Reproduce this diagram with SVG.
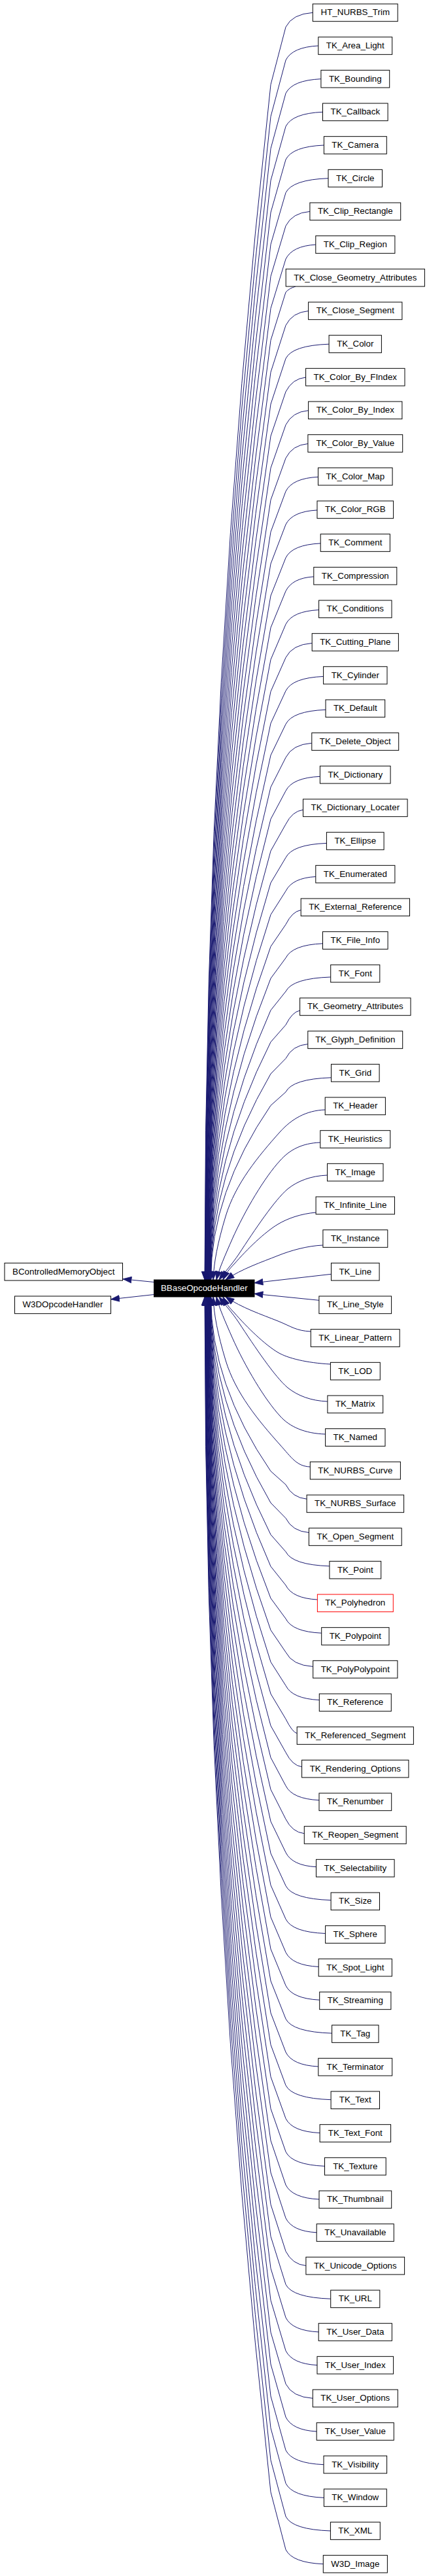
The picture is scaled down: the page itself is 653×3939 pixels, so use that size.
<svg xmlns="http://www.w3.org/2000/svg" width="653" height="3939" viewBox="0 0 653 3939">
<style>
.n rect{fill:#fff;stroke:#000;stroke-width:1}
.n text{font-family:"Liberation Sans",Arial,Helvetica,sans-serif;font-size:13.33px;text-anchor:middle;fill:#000}
.r text{}
#edges path{fill:none;stroke:#191970;stroke-width:1;marker-end:url(#ah)}
</style>
<defs>
<marker id="ah" markerUnits="userSpaceOnUse" markerWidth="14" markerHeight="11" viewBox="0 0 14 11" refX="13.5" refY="5.5" orient="auto"><path d="M0.5,0.7 L13.5,5.5 L0.5,10.3 z" fill="#191970" stroke="#191970" stroke-width="0.8"/></marker>
</defs>
<rect width="653" height="3939" fill="#fff"/>
<g id="edges">
<path d="M478.3,19.3 Q447,21.3 437,41.3 L414,129.4 Q313,1043.2 313,1957"/>
<path d="M486.8,70 Q447,72 437,92 L414,178.3 Q313.3,1067.7 313.3,1957"/>
<path d="M490.9,120.7 Q447,122.7 437,142.7 L414,227.3 Q313.6,1092.2 313.6,1957"/>
<path d="M493.5,171.3 Q447,173.3 437,193.3 L414,276.1 Q313.9,1116.6 313.9,1957"/>
<path d="M495.4,222 Q447,224 437,244 L414,325 Q314.2,1141 314.2,1957"/>
<path d="M502,272.7 Q447,274.7 437,294.7 L414,373.8 Q314.5,1165.4 314.5,1957"/>
<path d="M473.9,323.4 Q447,325.4 437,345.4 L414,422.7 Q314.8,1189.9 314.8,1957"/>
<path d="M482.8,374.1 Q447,376.1 437,396.1 L414,471.6 Q315.1,1214.3 315.1,1957"/>
<path d="M452,438 Q442,441 437,446.8 L414,520.4 Q315.4,1238.7 315.4,1957"/>
<path d="M471.6,475.5 Q447,477.5 437,497.5 L414,569.2 Q315.7,1263.1 315.7,1957"/>
<path d="M503.1,526.2 Q447,528.2 437,548.2 L414,618 Q316,1287.5 316,1957"/>
<path d="M467.6,577 Q447,579 437,599 L414,666.9 Q316.3,1312 316.3,1957"/>
<path d="M471.6,627.7 Q447,629.7 437,649.7 L414,715.7 Q316.6,1336.4 316.6,1957"/>
<path d="M470.9,678.5 Q447,680.5 437,700.5 L414,764.5 Q316.9,1360.8 316.9,1957"/>
<path d="M486.5,729.3 Q447,731.3 437,751.3 L414,813.4 Q317.2,1385.2 317.2,1957"/>
<path d="M485,780 Q447,782 437,802 L414,862.1 Q317.5,1409.6 317.5,1957"/>
<path d="M490.2,830.9 Q447,832.9 437,852.9 L414,911 Q317.8,1434 317.8,1957"/>
<path d="M479.8,881.8 Q447,883.8 437,903.8 L414,959.8 Q318,1458.4 318,1957"/>
<path d="M487.6,932.6 Q447,934.6 437,954.6 L414,1008.6 Q318.3,1482.8 318.3,1957"/>
<path d="M477.2,983.5 Q447,985.5 437,1005.5 L414,1057.4 Q318.6,1507.2 318.6,1957"/>
<path d="M494.6,1034.4 Q447,1036.4 437,1056.4 L414,1106.1 Q318.9,1531.6 318.9,1957"/>
<path d="M498,1085.3 Q447,1087.3 437,1107.3 L414,1154.9 Q319.2,1556 319.2,1957"/>
<path d="M476.8,1136.3 Q447,1138.3 437,1158.3 L414,1203.7 Q319.5,1580.4 319.5,1957"/>
<path d="M489.4,1187.3 Q447,1189.3 437,1209.3 L414,1252.5 Q319.8,1604.8 319.8,1957"/>
<path d="M463.5,1238.3 Q447,1240.3 437,1260.3 L414,1301.2 Q320.1,1629.1 320.1,1957"/>
<path d="M499.4,1289.4 Q447,1291.4 437,1311.4 L414,1350 Q320.4,1653.5 320.4,1957"/>
<path d="M482.8,1340.5 Q447,1342.5 437,1362.5 L414,1398.7 Q320.7,1677.9 320.7,1957"/>
<path d="M460.2,1391.6 Q447,1393.6 437,1413.6 L414,1447.4 Q321,1702.2 321,1957"/>
<path d="M493.5,1442.8 Q447,1444.8 437,1464.8 L414,1496.1 Q321.3,1726.6 321.3,1957"/>
<path d="M505.7,1494 Q447,1496 437,1516 L414,1544.8 Q321.6,1750.9 321.6,1957"/>
<path d="M458.6,1545.2 Q447,1547.2 437,1567.2 L414,1593.4 Q321.9,1775.2 321.9,1957"/>
<path d="M470.8,1596.5 Q447,1598.5 437,1618.5 L414,1642 Q322.2,1799.5 322.2,1957"/>
<path d="M506.5,1647.8 Q447,1649.8 437,1669.8 L414,1690.4 Q322.5,1823.7 322.5,1957"/>
<path d="M497.2,1697 C468,1698 446,1711 428,1731 C395,1768 360,1810 345,1860 C333,1900 327,1930 326,1957"/>
<path d="M489.8,1747 C462,1748 443,1758 428,1775 C405,1800 375,1850 355,1895 C345,1918 335,1940 331,1957"/>
<path d="M500.5,1797 C475,1798 455,1806 440,1818 C420,1835 390,1880 365,1918 C355,1933 343,1946 335,1957"/>
<path d="M483.1,1854 C460,1856 440,1863 425,1872 C405,1884 378,1910 358,1933 C350,1941 345,1948 341,1957"/>
<path d="M493.9,1904 C470,1905 445,1912 425,1920 C400,1930 370,1940 345,1957"/>
<path d="M506.5,1948.3 L389,1961.7"/>
<path d="M487.9,1988.3 L389,1978.3"/>
<path d="M475.3,2036 C452.7,2035 445,2028 425,2020 C400,2010 370,2000 345,1983"/>
<path d="M505.4,2086 C469.2,2084 440,2077 425,2068 C405,2056 378,2030 358,2007 C350,1999 345,1992 341,1983"/>
<path d="M500.9,2143 C475,2142 455,2134 440,2122 C420,2105 390,2060 365,2022 C355,2007 343,1994 335,1983"/>
<path d="M497.6,2193 C466.3,2192 443,2182 428,2165 C405,2140 375,2090 355,2045 C345,2022 335,2000 331,1983"/>
<path d="M474.3,2243 C453.5,2242 446,2229 428,2209 C395,2172 360,2130 345,2080 C333,2040 327,2010 326,1983"/>
<path d="M469.1,2292.2 Q447,2290.2 437,2270.2 L414,2249.6 Q322.5,2116.3 322.5,1983"/>
<path d="M472.4,2343.5 Q447,2341.5 437,2321.5 L414,2298 Q322.2,2140.5 322.2,1983"/>
<path d="M503.9,2394.8 Q447,2392.8 437,2372.8 L414,2346.6 Q321.9,2164.8 321.9,1983"/>
<path d="M485.4,2446 Q447,2444 437,2424 L414,2395.2 Q321.6,2189.1 321.6,1983"/>
<path d="M491.7,2497.2 Q447,2495.2 437,2475.2 L414,2443.9 Q321.3,2213.4 321.3,1983"/>
<path d="M478.7,2548.4 Q447,2546.4 437,2526.4 L414,2492.6 Q321,2237.8 321,1983"/>
<path d="M488.3,2599.5 Q447,2597.5 437,2577.5 L414,2541.3 Q320.7,2262.1 320.7,1983"/>
<path d="M454.2,2650.6 Q447,2648.6 437,2628.6 L414,2590 Q320.4,2286.5 320.4,1983"/>
<path d="M461.6,2701.7 Q447,2699.7 437,2679.7 L414,2638.8 Q320.1,2310.9 320.1,1983"/>
<path d="M488,2752.7 Q447,2750.7 437,2730.7 L414,2687.5 Q319.8,2335.2 319.8,1983"/>
<path d="M465.3,2803.7 Q447,2801.7 437,2781.7 L414,2736.3 Q319.5,2359.6 319.5,1983"/>
<path d="M483.5,2854.7 Q447,2852.7 437,2832.7 L414,2785.1 Q319.2,2384 319.2,1983"/>
<path d="M506.1,2905.6 Q447,2903.6 437,2883.6 L414,2833.9 Q318.9,2408.4 318.9,1983"/>
<path d="M497.6,2956.5 Q447,2954.5 437,2934.5 L414,2882.6 Q318.6,2432.8 318.6,1983"/>
<path d="M487.2,3007.4 Q447,3005.4 437,2985.4 L414,2931.4 Q318.3,2457.2 318.3,1983"/>
<path d="M488.7,3058.2 Q447,3056.2 437,3036.2 L414,2980.2 Q318,2481.6 318,1983"/>
<path d="M507.6,3109.1 Q447,3107.1 437,3087.1 L414,3029 Q317.8,2506 317.8,1983"/>
<path d="M486.8,3160 Q447,3158 437,3138 L414,3077.9 Q317.5,2530.4 317.5,1983"/>
<path d="M506.1,3210.7 Q447,3208.7 437,3188.7 L414,3126.6 Q317.2,2554.8 317.2,1983"/>
<path d="M489.1,3261.5 Q447,3259.5 437,3239.5 L414,3175.5 Q316.9,2579.2 316.9,1983"/>
<path d="M496.5,3312.3 Q447,3310.3 437,3290.3 L414,3224.3 Q316.6,2603.6 316.6,1983"/>
<path d="M488,3363 Q447,3361 437,3341 L414,3273.1 Q316.3,2628 316.3,1983"/>
<path d="M484.2,3413.8 Q447,3411.8 437,3391.8 L414,3322 Q316,2652.5 316,1983"/>
<path d="M467.9,3464.5 Q447,3462.5 437,3442.5 L414,3370.8 Q315.7,2676.9 315.7,1983"/>
<path d="M505.7,3515.2 Q447,3513.2 437,3493.2 L414,3419.6 Q315.4,2701.3 315.4,1983"/>
<path d="M487.2,3565.9 Q447,3563.9 437,3543.9 L414,3468.4 Q315.1,2725.7 315.1,1983"/>
<path d="M485,3616.6 Q447,3614.6 437,3594.6 L414,3517.3 Q314.8,2750.1 314.8,1983"/>
<path d="M478.3,3667.3 Q447,3665.3 437,3645.3 L414,3566.2 Q314.5,2774.6 314.5,1983"/>
<path d="M484.2,3718 Q447,3716 437,3696 L414,3615 Q314.2,2799 314.2,1983"/>
<path d="M495,3768.7 Q447,3766.7 437,3746.7 L414,3663.9 Q313.9,2823.4 313.9,1983"/>
<path d="M495.4,3819.3 Q447,3817.3 437,3797.3 L414,3712.7 Q313.6,2847.8 313.6,1983"/>
<path d="M505.4,3870 Q447,3868 437,3848 L414,3761.7 Q313.3,2872.3 313.3,1983"/>
<path d="M494.3,3920.7 Q447,3918.7 437,3898.7 L414,3810.6 Q313,2896.8 313,1983"/>
<path d="M235.5,1960.5 L188,1955.8"/>
<path d="M235.5,1979.5 L169.5,1986.8"/>
</g>
<g id="BBaseOpcodeHandler"><rect x="235.5" y="1957" width="153.5" height="26" fill="#000" stroke="#000"/><text x="312.3" y="1974.3" font-family="Liberation Sans,Arial,sans-serif" font-size="13.33px" text-anchor="middle" fill="#fff">BBaseOpcodeHandler</text></g>
<g id="BControlledMemoryObject" class="n"><rect x="7" y="1931.33" width="180.5" height="26.67"/><text x="97.2" y="1948.67">BControlledMemoryObject</text></g>
<g id="W3DOpcodeHandler" class="n"><rect x="22.5" y="1982" width="147" height="26.67"/><text x="96" y="1999.33">W3DOpcodeHandler</text></g>
<g id="HT_NURBS_Trim" class="n"><rect x="478.3" y="6" width="129.9" height="26.67"/><text x="543.3" y="23.33">HT_NURBS_Trim</text></g>
<g id="TK_Area_Light" class="n"><rect x="486.8" y="56.67" width="112.9" height="26.67"/><text x="543.3" y="74">TK_Area_Light</text></g>
<g id="TK_Bounding" class="n"><rect x="490.9" y="107.33" width="104.8" height="26.67"/><text x="543.3" y="124.67">TK_Bounding</text></g>
<g id="TK_Callback" class="n"><rect x="493.5" y="158" width="99.6" height="26.67"/><text x="543.3" y="175.33">TK_Callback</text></g>
<g id="TK_Camera" class="n"><rect x="495.4" y="208.67" width="95.9" height="26.67"/><text x="543.3" y="226">TK_Camera</text></g>
<g id="TK_Circle" class="n"><rect x="502" y="259.33" width="82.5" height="26.67"/><text x="543.3" y="276.67">TK_Circle</text></g>
<g id="TK_Clip_Rectangle" class="n"><rect x="473.9" y="310" width="138.8" height="26.67"/><text x="543.3" y="327.33">TK_Clip_Rectangle</text></g>
<g id="TK_Clip_Region" class="n"><rect x="482.8" y="360.67" width="121.1" height="26.67"/><text x="543.3" y="378">TK_Clip_Region</text></g>
<g id="TK_Close_Geometry_Attributes" class="n"><rect x="437.2" y="411.33" width="212.2" height="26.67"/><text x="543.3" y="428.67">TK_Close_Geometry_Attributes</text></g>
<g id="TK_Close_Segment" class="n"><rect x="471.6" y="462" width="143.3" height="26.67"/><text x="543.3" y="479.33">TK_Close_Segment</text></g>
<g id="TK_Color" class="n"><rect x="503.1" y="512.67" width="80.3" height="26.67"/><text x="543.3" y="530">TK_Color</text></g>
<g id="TK_Color_By_FIndex" class="n"><rect x="467.6" y="563.33" width="151.4" height="26.67"/><text x="543.3" y="580.67">TK_Color_By_FIndex</text></g>
<g id="TK_Color_By_Index" class="n"><rect x="471.6" y="614" width="143.3" height="26.67"/><text x="543.3" y="631.33">TK_Color_By_Index</text></g>
<g id="TK_Color_By_Value" class="n"><rect x="470.9" y="664.67" width="144.8" height="26.67"/><text x="543.3" y="682">TK_Color_By_Value</text></g>
<g id="TK_Color_Map" class="n"><rect x="486.5" y="715.33" width="113.6" height="26.67"/><text x="543.3" y="732.67">TK_Color_Map</text></g>
<g id="TK_Color_RGB" class="n"><rect x="485" y="766" width="116.6" height="26.67"/><text x="543.3" y="783.33">TK_Color_RGB</text></g>
<g id="TK_Comment" class="n"><rect x="490.2" y="816.67" width="106.2" height="26.67"/><text x="543.3" y="834">TK_Comment</text></g>
<g id="TK_Compression" class="n"><rect x="479.8" y="867.33" width="127" height="26.67"/><text x="543.3" y="884.67">TK_Compression</text></g>
<g id="TK_Conditions" class="n"><rect x="487.6" y="918" width="111.4" height="26.67"/><text x="543.3" y="935.33">TK_Conditions</text></g>
<g id="TK_Cutting_Plane" class="n"><rect x="477.2" y="968.67" width="132.2" height="26.67"/><text x="543.3" y="986">TK_Cutting_Plane</text></g>
<g id="TK_Cylinder" class="n"><rect x="494.6" y="1019.33" width="97.4" height="26.67"/><text x="543.3" y="1036.67">TK_Cylinder</text></g>
<g id="TK_Default" class="n"><rect x="498" y="1070" width="90.7" height="26.67"/><text x="543.3" y="1087.33">TK_Default</text></g>
<g id="TK_Delete_Object" class="n"><rect x="476.8" y="1120.67" width="132.9" height="26.67"/><text x="543.3" y="1138">TK_Delete_Object</text></g>
<g id="TK_Dictionary" class="n"><rect x="489.4" y="1171.33" width="107.7" height="26.67"/><text x="543.3" y="1188.67">TK_Dictionary</text></g>
<g id="TK_Dictionary_Locater" class="n"><rect x="463.5" y="1222" width="159.6" height="26.67"/><text x="543.3" y="1239.33">TK_Dictionary_Locater</text></g>
<g id="TK_Ellipse" class="n"><rect x="499.4" y="1272.67" width="87.7" height="26.67"/><text x="543.3" y="1290">TK_Ellipse</text></g>
<g id="TK_Enumerated" class="n"><rect x="482.8" y="1323.33" width="121.1" height="26.67"/><text x="543.3" y="1340.67">TK_Enumerated</text></g>
<g id="TK_External_Reference" class="n"><rect x="460.2" y="1374" width="166.3" height="26.67"/><text x="543.3" y="1391.33">TK_External_Reference</text></g>
<g id="TK_File_Info" class="n"><rect x="493.5" y="1424.67" width="99.6" height="26.67"/><text x="543.3" y="1442">TK_File_Info</text></g>
<g id="TK_Font" class="n"><rect x="505.7" y="1475.33" width="75.1" height="26.67"/><text x="543.3" y="1492.67">TK_Font</text></g>
<g id="TK_Geometry_Attributes" class="n"><rect x="458.6" y="1526" width="169.4" height="26.67"/><text x="543.3" y="1543.33">TK_Geometry_Attributes</text></g>
<g id="TK_Glyph_Definition" class="n"><rect x="470.8" y="1576.67" width="144.9" height="26.67"/><text x="543.3" y="1594">TK_Glyph_Definition</text></g>
<g id="TK_Grid" class="n"><rect x="506.5" y="1627.33" width="73.6" height="26.67"/><text x="543.3" y="1644.67">TK_Grid</text></g>
<g id="TK_Header" class="n"><rect x="497.2" y="1678" width="92.2" height="26.67"/><text x="543.3" y="1695.33">TK_Header</text></g>
<g id="TK_Heuristics" class="n"><rect x="489.8" y="1728.67" width="107" height="26.67"/><text x="543.3" y="1746">TK_Heuristics</text></g>
<g id="TK_Image" class="n"><rect x="500.5" y="1779.33" width="85.5" height="26.67"/><text x="543.3" y="1796.67">TK_Image</text></g>
<g id="TK_Infinite_Line" class="n"><rect x="483.1" y="1830" width="120.4" height="26.67"/><text x="543.3" y="1847.33">TK_Infinite_Line</text></g>
<g id="TK_Instance" class="n"><rect x="493.9" y="1880.67" width="98.9" height="26.67"/><text x="543.3" y="1898">TK_Instance</text></g>
<g id="TK_Line" class="n"><rect x="506.5" y="1931.33" width="73.6" height="26.67"/><text x="543.3" y="1948.67">TK_Line</text></g>
<g id="TK_Line_Style" class="n"><rect x="487.9" y="1982" width="110.7" height="26.67"/><text x="543.3" y="1999.33">TK_Line_Style</text></g>
<g id="TK_Linear_Pattern" class="n"><rect x="475.3" y="2032.67" width="135.9" height="26.67"/><text x="543.3" y="2050">TK_Linear_Pattern</text></g>
<g id="TK_LOD" class="n"><rect x="505.4" y="2083.33" width="75.9" height="26.67"/><text x="543.3" y="2100.67">TK_LOD</text></g>
<g id="TK_Matrix" class="n"><rect x="500.9" y="2134" width="84.8" height="26.67"/><text x="543.3" y="2151.33">TK_Matrix</text></g>
<g id="TK_Named" class="n"><rect x="497.6" y="2184.67" width="91.4" height="26.67"/><text x="543.3" y="2202">TK_Named</text></g>
<g id="TK_NURBS_Curve" class="n"><rect x="474.3" y="2235.33" width="138.1" height="26.67"/><text x="543.3" y="2252.67">TK_NURBS_Curve</text></g>
<g id="TK_NURBS_Surface" class="n"><rect x="469.1" y="2286" width="148.5" height="26.67"/><text x="543.3" y="2303.33">TK_NURBS_Surface</text></g>
<g id="TK_Open_Segment" class="n"><rect x="472.4" y="2336.67" width="141.8" height="26.67"/><text x="543.3" y="2354">TK_Open_Segment</text></g>
<g id="TK_Point" class="n"><rect x="503.9" y="2387.33" width="78.8" height="26.67"/><text x="543.3" y="2404.67">TK_Point</text></g>
<g id="TK_Polyhedron" class="n"><rect x="485.4" y="2438" width="115.9" height="26.67" style="stroke:#ff0000"/><text x="543.3" y="2455.33">TK_Polyhedron</text></g>
<g id="TK_Polypoint" class="n"><rect x="491.7" y="2488.67" width="103.3" height="26.67"/><text x="543.3" y="2506">TK_Polypoint</text></g>
<g id="TK_PolyPolypoint" class="n"><rect x="478.7" y="2539.33" width="129.2" height="26.67"/><text x="543.3" y="2556.67">TK_PolyPolypoint</text></g>
<g id="TK_Reference" class="n"><rect x="488.3" y="2590" width="110" height="26.67"/><text x="543.3" y="2607.33">TK_Reference</text></g>
<g id="TK_Referenced_Segment" class="n"><rect x="454.2" y="2640.67" width="178.2" height="26.67"/><text x="543.3" y="2658">TK_Referenced_Segment</text></g>
<g id="TK_Rendering_Options" class="n"><rect x="461.6" y="2691.33" width="163.3" height="26.67"/><text x="543.3" y="2708.67">TK_Rendering_Options</text></g>
<g id="TK_Renumber" class="n"><rect x="488" y="2742" width="110.7" height="26.67"/><text x="543.3" y="2759.33">TK_Renumber</text></g>
<g id="TK_Reopen_Segment" class="n"><rect x="465.3" y="2792.67" width="155.9" height="26.67"/><text x="543.3" y="2810">TK_Reopen_Segment</text></g>
<g id="TK_Selectability" class="n"><rect x="483.5" y="2843.33" width="119.6" height="26.67"/><text x="543.3" y="2860.67">TK_Selectability</text></g>
<g id="TK_Size" class="n"><rect x="506.1" y="2894" width="74.4" height="26.67"/><text x="543.3" y="2911.33">TK_Size</text></g>
<g id="TK_Sphere" class="n"><rect x="497.6" y="2944.67" width="91.4" height="26.67"/><text x="543.3" y="2962">TK_Sphere</text></g>
<g id="TK_Spot_Light" class="n"><rect x="487.2" y="2995.33" width="112.2" height="26.67"/><text x="543.3" y="3012.67">TK_Spot_Light</text></g>
<g id="TK_Streaming" class="n"><rect x="488.7" y="3046" width="109.2" height="26.67"/><text x="543.3" y="3063.33">TK_Streaming</text></g>
<g id="TK_Tag" class="n"><rect x="507.6" y="3096.67" width="71.4" height="26.67"/><text x="543.3" y="3114">TK_Tag</text></g>
<g id="TK_Terminator" class="n"><rect x="486.8" y="3147.33" width="112.9" height="26.67"/><text x="543.3" y="3164.67">TK_Terminator</text></g>
<g id="TK_Text" class="n"><rect x="506.1" y="3198" width="74.4" height="26.67"/><text x="543.3" y="3215.33">TK_Text</text></g>
<g id="TK_Text_Font" class="n"><rect x="489.1" y="3248.67" width="108.5" height="26.67"/><text x="543.3" y="3266">TK_Text_Font</text></g>
<g id="TK_Texture" class="n"><rect x="496.5" y="3299.33" width="93.7" height="26.67"/><text x="543.3" y="3316.67">TK_Texture</text></g>
<g id="TK_Thumbnail" class="n"><rect x="488" y="3350" width="110.7" height="26.67"/><text x="543.3" y="3367.33">TK_Thumbnail</text></g>
<g id="TK_Unavailable" class="n"><rect x="484.2" y="3400.67" width="118.1" height="26.67"/><text x="543.3" y="3418">TK_Unavailable</text></g>
<g id="TK_Unicode_Options" class="n"><rect x="467.9" y="3451.33" width="150.7" height="26.67"/><text x="543.3" y="3468.67">TK_Unicode_Options</text></g>
<g id="TK_URL" class="n"><rect x="505.7" y="3502" width="75.1" height="26.67"/><text x="543.3" y="3519.33">TK_URL</text></g>
<g id="TK_User_Data" class="n"><rect x="487.2" y="3552.67" width="112.2" height="26.67"/><text x="543.3" y="3570">TK_User_Data</text></g>
<g id="TK_User_Index" class="n"><rect x="485" y="3603.33" width="116.6" height="26.67"/><text x="543.3" y="3620.67">TK_User_Index</text></g>
<g id="TK_User_Options" class="n"><rect x="478.3" y="3654" width="130" height="26.67"/><text x="543.3" y="3671.33">TK_User_Options</text></g>
<g id="TK_User_Value" class="n"><rect x="484.2" y="3704.67" width="118.1" height="26.67"/><text x="543.3" y="3722">TK_User_Value</text></g>
<g id="TK_Visibility" class="n"><rect x="495" y="3755.33" width="96.6" height="26.67"/><text x="543.3" y="3772.67">TK_Visibility</text></g>
<g id="TK_Window" class="n"><rect x="495.4" y="3806" width="95.9" height="26.67"/><text x="543.3" y="3823.33">TK_Window</text></g>
<g id="TK_XML" class="n"><rect x="505.4" y="3856.67" width="75.9" height="26.67"/><text x="543.3" y="3874">TK_XML</text></g>
<g id="W3D_Image" class="n"><rect x="494.3" y="3907.33" width="98.1" height="26.67"/><text x="543.3" y="3924.67">W3D_Image</text></g>
</svg>
